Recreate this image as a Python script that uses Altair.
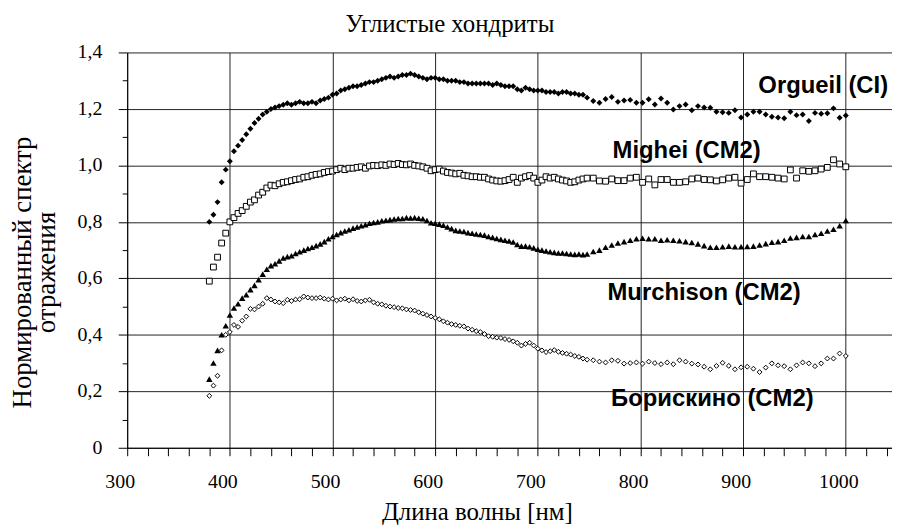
import altair as alt
import pandas as pd

wavelength = [
    380, 384, 388, 392, 396, 400, 404, 408, 412, 416,
    420, 424, 428, 432, 436, 440, 444, 448, 452, 456,
    460, 464, 468, 472, 476, 480, 484, 488, 492, 496,
    500, 504, 508, 512, 516, 520, 524, 528, 532, 536,
    540, 544, 548, 552, 556, 560, 564, 568, 572, 576,
    580, 584, 588, 592, 596, 600, 604, 608, 612, 616,
    620, 624, 628, 632, 636, 640, 644, 648, 652, 656,
    660, 664, 668, 672, 676, 680, 684, 688, 692, 696,
    700, 704, 708, 712, 716, 720, 724, 728, 732, 736,
    740, 744, 748,
    754, 760, 766, 772, 778, 784, 790, 796, 802, 808,
    814, 820, 826, 832, 838, 844, 850, 856, 862, 868,
    874, 880, 886, 892, 898, 904, 910, 916, 922, 928,
    934, 940, 946, 952, 958, 964, 970, 976, 982, 988,
    994, 1000,
]

orgueil = [
    0.800, 0.825, 0.870, 0.940, 0.985, 1.015, 1.050, 1.070, 1.090, 1.110,
    1.130, 1.150, 1.165, 1.180, 1.190, 1.200, 1.205, 1.210, 1.215, 1.220,
    1.215, 1.220, 1.225, 1.220, 1.220, 1.225, 1.220, 1.230, 1.235, 1.240,
    1.250, 1.255, 1.265, 1.270, 1.275, 1.280, 1.280, 1.285, 1.290, 1.295,
    1.295, 1.300, 1.305, 1.310, 1.315, 1.310, 1.315, 1.320, 1.320, 1.325,
    1.320, 1.315, 1.310, 1.305, 1.310, 1.310, 1.305, 1.305, 1.300, 1.300,
    1.300, 1.295, 1.295, 1.290, 1.290, 1.290, 1.290, 1.290, 1.290, 1.285,
    1.290, 1.285, 1.280, 1.280, 1.280, 1.270, 1.265, 1.275, 1.270, 1.265,
    1.265, 1.265, 1.260, 1.260, 1.260, 1.255, 1.260, 1.260, 1.255, 1.255,
    1.250, 1.250, 1.240,
    1.228, 1.222, 1.235, 1.242, 1.225, 1.230, 1.232, 1.222, 1.222, 1.234,
    1.216, 1.237, 1.222, 1.198, 1.210, 1.216, 1.195, 1.210, 1.205, 1.204,
    1.190, 1.188, 1.186, 1.195, 1.170, 1.180, 1.190, 1.190, 1.180, 1.172,
    1.170, 1.167, 1.190, 1.178, 1.180, 1.157, 1.186, 1.183, 1.185, 1.202,
    1.169, 1.177,
]

mighei = [
    0.590, 0.640, 0.675, 0.725, 0.760, 0.800, 0.815, 0.830, 0.840, 0.855,
    0.870, 0.878, 0.895, 0.905, 0.920, 0.930, 0.928, 0.935, 0.940, 0.942,
    0.946, 0.950, 0.952, 0.958, 0.960, 0.965, 0.968, 0.970, 0.975, 0.978,
    0.980, 0.985, 0.990, 0.985, 0.990, 0.990, 0.993, 0.995, 0.990, 0.998,
    1.000, 0.999, 1.002, 1.000, 1.005, 1.003, 1.007, 1.003, 1.002, 1.005,
    1.000, 0.998, 0.995, 0.990, 0.981, 0.985, 0.987, 0.980, 0.975, 0.973,
    0.970, 0.972, 0.965, 0.963, 0.960, 0.960, 0.958, 0.958, 0.952, 0.948,
    0.945, 0.944, 0.946, 0.950, 0.958, 0.940, 0.955, 0.960, 0.964, 0.955,
    0.940, 0.948, 0.960, 0.955, 0.958, 0.952, 0.948, 0.945, 0.940, 0.942,
    0.948, 0.952, 0.955,
    0.955, 0.945, 0.944, 0.952, 0.946, 0.946, 0.955, 0.958, 0.940, 0.952,
    0.931, 0.950, 0.950, 0.940, 0.940, 0.942, 0.952, 0.955, 0.950, 0.949,
    0.945, 0.949, 0.955, 0.958, 0.937, 0.950, 0.970, 0.960, 0.960, 0.958,
    0.955, 0.952, 0.984, 0.955, 0.981, 0.979, 0.981, 0.987, 0.993, 1.020,
    1.005, 0.995,
]

murchison = [
    0.243, 0.300, 0.345, 0.400, 0.432, 0.470, 0.495, 0.510, 0.530, 0.542,
    0.560, 0.575, 0.595, 0.615, 0.632, 0.645, 0.652, 0.662, 0.672, 0.677,
    0.680, 0.688, 0.694, 0.700, 0.706, 0.710, 0.716, 0.722, 0.730, 0.740,
    0.748, 0.755, 0.762, 0.768, 0.772, 0.778, 0.782, 0.786, 0.790, 0.795,
    0.798, 0.800, 0.804, 0.806, 0.808, 0.810, 0.812, 0.812, 0.815, 0.814,
    0.815, 0.813, 0.811, 0.805, 0.797, 0.795, 0.792, 0.788, 0.782, 0.776,
    0.770, 0.768, 0.766, 0.762, 0.760, 0.757, 0.755, 0.753, 0.748, 0.745,
    0.741, 0.738, 0.735, 0.732, 0.729, 0.720, 0.714, 0.714, 0.712, 0.708,
    0.703, 0.700, 0.697, 0.694, 0.692, 0.690, 0.690, 0.688, 0.686, 0.685,
    0.686, 0.684, 0.686,
    0.695, 0.700, 0.710, 0.718, 0.725, 0.730, 0.735, 0.740, 0.742, 0.740,
    0.740, 0.735, 0.737, 0.735, 0.733, 0.730, 0.727, 0.722, 0.716, 0.710,
    0.710, 0.712, 0.714, 0.712, 0.712, 0.713, 0.714, 0.718, 0.723, 0.728,
    0.730, 0.735, 0.743, 0.745, 0.748, 0.748, 0.755, 0.760, 0.768, 0.774,
    0.786, 0.805,
]

boriskino = [
    0.184, 0.220, 0.255, 0.345, 0.400, 0.410, 0.435, 0.428, 0.450, 0.465,
    0.492, 0.490, 0.500, 0.510, 0.530, 0.525, 0.518, 0.515, 0.512, 0.524,
    0.520, 0.525, 0.526, 0.536, 0.532, 0.530, 0.530, 0.532, 0.528, 0.525,
    0.528, 0.522, 0.525, 0.528, 0.522, 0.526, 0.520, 0.518, 0.522, 0.524,
    0.515, 0.510, 0.508, 0.503, 0.500, 0.498, 0.495, 0.494, 0.490, 0.488,
    0.486, 0.480, 0.475, 0.470, 0.465, 0.460, 0.455, 0.448, 0.443, 0.438,
    0.435, 0.432, 0.430, 0.422, 0.418, 0.413, 0.410, 0.403, 0.395, 0.393,
    0.390, 0.389, 0.385, 0.382, 0.377, 0.372, 0.362, 0.368, 0.372, 0.362,
    0.351, 0.345, 0.339, 0.342, 0.346, 0.340, 0.336, 0.333, 0.330, 0.325,
    0.322, 0.316, 0.312,
    0.310, 0.305, 0.302, 0.310, 0.308, 0.298, 0.300, 0.302, 0.298, 0.305,
    0.300, 0.296, 0.302, 0.296, 0.310, 0.305, 0.298, 0.295, 0.287, 0.278,
    0.290, 0.301, 0.290, 0.278, 0.285, 0.287, 0.280, 0.268, 0.284, 0.299,
    0.292, 0.289, 0.278, 0.292, 0.302, 0.299, 0.289, 0.299, 0.316, 0.316,
    0.334, 0.325,
]

series_names = ["Orgueil (CI)", "Mighei (CM2)", "Murchison (CM2)", "Борискино (CM2)"]

label_text = ["Orgueil (CI)", "Mighei (CM2)", "Murchison (CM2)", "Борискино (CM2)"]
label_x = [978, 845, 862, 870]
label_y = [1.28, 1.052, 0.549, 0.172]

chart_title = "Углистые хондриты"

# tick positions and their printed labels
x_tick_values = [
    300, 320, 340, 360, 380, 400, 420, 440, 460, 480,
    500, 520, 540, 560, 580, 600, 620, 640, 660, 680,
    700, 720, 740, 760, 780, 800, 820, 840, 860, 880,
    900, 920, 940, 960, 980, 1000, 1020, 1040,
]
y_tick_values = [0, 0.1, 0.2, 0.3, 0.4, 0.5, 0.6, 0.7, 0.8, 0.9, 1.0, 1.1, 1.2, 1.3, 1.4]
x_label_values = [300, 400, 500, 600, 700, 800, 900, 1000]
x_label_text = ["300", "400", "500", "600", "700", "800", "900", "1000"]
y_label_values = [0, 0.2, 0.4, 0.6, 0.8, 1.0, 1.2, 1.4]
y_label_text = ["0", "0,2", "0,4", "0,6", "0,8", "1,0", "1,2", "1,4"]

rows = []
for name, vals in zip(series_names, [orgueil, mighei, murchison, boriskino]):
    for w, v in zip(wavelength, vals):
        rows.append({"wavelength": w, "value": v, "series": name})
df = pd.DataFrame(rows)
labels_df = pd.DataFrame({"text": label_text, "wavelength": label_x, "value": label_y})
title_df = pd.DataFrame({"text": [chart_title]})
xlab_df = pd.DataFrame({"wavelength": x_label_values, "value": [0] * len(x_label_values), "text": x_label_text})
ylab_df = pd.DataFrame({"wavelength": [300] * len(y_label_values), "value": y_label_values, "text": y_label_text})

SERIF = "Liberation Serif"
SANS = "Liberation Sans"

x_major = "datum.value % 100 === 0"
y_major = "round(datum.value * 10) % 2 === 0"

x_enc = alt.X(
    "wavelength:Q",
    scale=alt.Scale(domain=[300, 1045], nice=False, zero=False),
    axis=alt.Axis(
        values=x_tick_values,
        labels=False,
        tickSize=8,
        grid=True,
        gridColor="#222222",
        gridOpacity={"condition": {"test": x_major, "value": 1}, "value": 0},
        title="Длина волны [нм]",
        titleFont=SERIF,
        titleFontSize=25,
        titleFontWeight="normal",
        titleX=352,
        titleY=72,
        titleAlign="center",
        titleBaseline="alphabetic",
    ),
)

y_enc = alt.Y(
    "value:Q",
    scale=alt.Scale(domain=[0, 1.4], nice=False, zero=True),
    axis=alt.Axis(
        values=y_tick_values,
        labels=False,
        tickSize={"condition": {"test": y_major, "value": 9}, "value": 5},
        grid=True,
        gridColor="#222222",
        gridOpacity={"condition": {"test": y_major, "value": 1}, "value": 0},
        title=["Нормированный спектр", "отражения"],
        titleFont=SERIF,
        titleFontSize=27,
        titleFontWeight="normal",
        titleAngle=270,
        titleX=-105,
        titleY=221,
        titleAlign="center",
        titleBaseline="middle",
        titleLineHeight=24,
    ),
)

base = alt.Chart(df).encode(x=x_enc, y=y_enc)

p_org = base.transform_filter(alt.datum.series == "Orgueil (CI)").mark_point(
    shape="diamond", filled=True, color="black", size=36, opacity=1
)
p_mig = base.transform_filter(alt.datum.series == "Mighei (CM2)").mark_point(
    shape="square", filled=True, fill="white", stroke="black", strokeWidth=1, size=34, opacity=1
)
p_mur = base.transform_filter(alt.datum.series == "Murchison (CM2)").mark_point(
    shape="triangle-up", filled=True, color="black", size=42, opacity=1
)
p_bor = base.transform_filter(alt.datum.series == "Борискино (CM2)").mark_point(
    shape="diamond", filled=True, fill="white", stroke="black", strokeWidth=1, size=24, opacity=1
)

texts = alt.Chart(labels_df).mark_text(
    font=SANS, fontWeight="bold", fontSize=24, color="black", align="center", baseline="middle"
).encode(x=x_enc, y=y_enc, text="text:N")

x_labels = alt.Chart(xlab_df).mark_text(
    font=SERIF, fontSize=20, color="black", align="center", baseline="middle", dx=-7, dy=34
).encode(x=x_enc, y=y_enc, text="text:N")

y_labels = alt.Chart(ylab_df).mark_text(
    font=SERIF, fontSize=20, color="black", align="right", baseline="middle", dx=-25
).encode(x=x_enc, y=y_enc, text="text:N")

title_mark = alt.Chart(title_df).mark_text(
    font=SERIF, fontSize=25, color="black", align="center", baseline="alphabetic"
).encode(x=alt.value(325), y=alt.value(-21), text="text:N")

chart = (
    alt.layer(p_org, p_mig, p_mur, p_bor, texts, x_labels, y_labels, title_mark)
    .properties(
        width=770,
        height=398,
        autosize=alt.AutoSizeParams(type="none"),
        padding={"left": 120, "top": 43, "right": 0, "bottom": 77},
        background="white",
    )
    .configure_view(stroke=None)
    .configure_axis(
        domainColor="black",
        domainWidth=1,
        tickColor="black",
        tickWidth=1,
        titleColor="black",
    )
)

chart.save("out.html", embed_options={"renderer": "svg", "actions": False})
